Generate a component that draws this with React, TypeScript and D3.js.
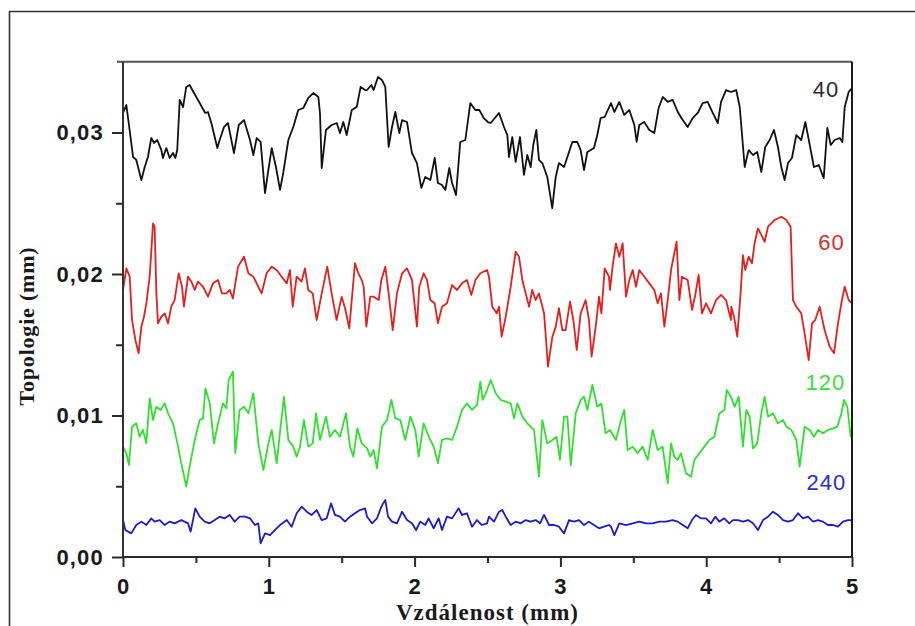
import { useEffect, useRef } from 'react';
import * as d3 from 'd3';

// distance (mm) / topology (mm) pairs
const series40: [number, number][] = [
  [0, 0.03138], [0.023, 0.03194], [0.041, 0.03053], [0.069, 0.02827], [0.091, 0.02806], [0.126, 0.02664],
  [0.149, 0.02756], [0.171, 0.02827], [0.194, 0.02961], [0.213, 0.02926], [0.235, 0.02947], [0.263, 0.02876],
  [0.274, 0.0282], [0.297, 0.0289], [0.32, 0.0282], [0.343, 0.02855], [0.359, 0.0282], [0.372, 0.02876],
  [0.389, 0.0323], [0.412, 0.0318], [0.434, 0.03322], [0.457, 0.03336], [0.487, 0.03279], [0.526, 0.03208],
  [0.564, 0.03138], [0.583, 0.03145], [0.606, 0.03067], [0.629, 0.02968], [0.647, 0.0289], [0.663, 0.02947],
  [0.693, 0.03039], [0.72, 0.03067], [0.761, 0.02855], [0.794, 0.03053], [0.83, 0.03088], [0.871, 0.02947],
  [0.894, 0.02841], [0.917, 0.02961], [0.944, 0.02933], [0.974, 0.02572], [0.997, 0.02735], [1.02, 0.0289],
  [1.049, 0.02756], [1.077, 0.02594], [1.099, 0.02714], [1.134, 0.02947], [1.168, 0.03039], [1.202, 0.03159],
  [1.237, 0.03173], [1.271, 0.03244], [1.305, 0.03279], [1.34, 0.03251], [1.351, 0.03138], [1.363, 0.02749],
  [1.392, 0.03018], [1.431, 0.03053], [1.466, 0.03067], [1.488, 0.02996], [1.511, 0.03074], [1.534, 0.02982],
  [1.569, 0.03159], [1.603, 0.0318], [1.63, 0.03322], [1.66, 0.033], [1.674, 0.033], [1.703, 0.03336],
  [1.719, 0.033], [1.749, 0.03392], [1.776, 0.03371], [1.799, 0.03322], [1.822, 0.02898], [1.845, 0.03039],
  [1.868, 0.03145], [1.895, 0.02996], [1.914, 0.03088], [1.948, 0.03074], [1.982, 0.02855], [2.016, 0.02784],
  [2.046, 0.02608], [2.073, 0.02686], [2.108, 0.02664], [2.138, 0.0282], [2.16, 0.02643], [2.188, 0.02629],
  [2.211, 0.02594], [2.238, 0.02749], [2.257, 0.02643], [2.284, 0.02558], [2.313, 0.02933], [2.348, 0.02947],
  [2.382, 0.03208], [2.416, 0.03159], [2.444, 0.03159], [2.474, 0.03102], [2.503, 0.03074], [2.522, 0.03067],
  [2.579, 0.03138], [2.613, 0.03039], [2.636, 0.02982], [2.647, 0.02827], [2.67, 0.02968], [2.693, 0.02792],
  [2.723, 0.02968], [2.75, 0.027], [2.773, 0.02841], [2.796, 0.02756], [2.814, 0.02912], [2.835, 0.03018],
  [2.853, 0.02806], [2.876, 0.02784], [2.91, 0.02686], [2.944, 0.02466], [2.968, 0.02686], [2.99, 0.02784],
  [3.025, 0.02756], [3.082, 0.02933], [3.116, 0.02933], [3.139, 0.02876], [3.162, 0.02735], [3.185, 0.02862],
  [3.23, 0.0289], [3.253, 0.02982], [3.276, 0.03102], [3.304, 0.0311], [3.347, 0.03208], [3.37, 0.03145],
  [3.404, 0.03216], [3.438, 0.03124], [3.473, 0.03159], [3.507, 0.03053], [3.523, 0.02933], [3.541, 0.03053],
  [3.575, 0.03074], [3.61, 0.03018], [3.644, 0.02996], [3.674, 0.03173], [3.702, 0.03251], [3.736, 0.03216],
  [3.77, 0.0323], [3.805, 0.03145], [3.839, 0.03088], [3.873, 0.03039], [3.907, 0.03102], [3.942, 0.03138],
  [3.976, 0.03208], [4.01, 0.03216], [4.045, 0.03138], [4.079, 0.03067], [4.102, 0.03216], [4.136, 0.033],
  [4.17, 0.03286], [4.206, 0.033], [4.23, 0.0318], [4.264, 0.02756], [4.291, 0.02876], [4.321, 0.02841],
  [4.35, 0.02862], [4.378, 0.02721], [4.405, 0.02898], [4.435, 0.02947], [4.465, 0.03018], [4.492, 0.02898],
  [4.515, 0.02756], [4.538, 0.02664], [4.561, 0.02784], [4.588, 0.0282], [4.618, 0.02982], [4.652, 0.02947],
  [4.68, 0.03074], [4.71, 0.02912], [4.739, 0.02756], [4.772, 0.0277], [4.806, 0.02678], [4.831, 0.03032],
  [4.854, 0.02912], [4.881, 0.02947], [4.916, 0.02961], [4.934, 0.02933], [4.95, 0.0318], [4.977, 0.03286],
  [5, 0.03314],
];

const series60: [number, number][] = [
  [0, 0.01887], [0.023, 0.0204], [0.046, 0.01981], [0.062, 0.01675], [0.085, 0.01534], [0.107, 0.0144],
  [0.126, 0.01628], [0.144, 0.01698], [0.16, 0.01793], [0.183, 0.01981], [0.206, 0.02358], [0.217, 0.02334],
  [0.229, 0.01863], [0.24, 0.01651], [0.263, 0.01698], [0.286, 0.01722], [0.309, 0.01651], [0.331, 0.01769],
  [0.354, 0.01816], [0.382, 0.02005], [0.405, 0.0191], [0.418, 0.01769], [0.446, 0.01981], [0.469, 0.01946],
  [0.492, 0.01887], [0.514, 0.01946], [0.549, 0.0191], [0.583, 0.0184], [0.617, 0.01934], [0.652, 0.01958],
  [0.679, 0.01863], [0.709, 0.01863], [0.732, 0.01887], [0.754, 0.01828], [0.789, 0.02052], [0.83, 0.02122],
  [0.86, 0.02005], [0.894, 0.01981], [0.928, 0.0191], [0.951, 0.01863], [0.985, 0.02005], [1.02, 0.02052],
  [1.054, 0.02028], [1.088, 0.01981], [1.123, 0.01934], [1.145, 0.02028], [1.164, 0.01769], [1.191, 0.01981],
  [1.225, 0.01946], [1.248, 0.0204], [1.271, 0.01887], [1.301, 0.01863], [1.328, 0.01675], [1.363, 0.01863],
  [1.401, 0.02052], [1.431, 0.01863], [1.465, 0.01675], [1.5, 0.0184], [1.523, 0.01758], [1.552, 0.01616],
  [1.591, 0.02076], [1.614, 0.02005], [1.637, 0.01958],
  [1.651, 0.0191], [1.669, 0.01628], [1.696, 0.0184], [1.719, 0.0184], [1.754, 0.01816], [1.772, 0.01958],
  [1.799, 0.02052], [1.822, 0.01863], [1.85, 0.01604], [1.879, 0.01863], [1.914, 0.02005], [1.948, 0.0204],
  [1.982, 0.01958], [2.016, 0.01628], [2.032, 0.0191], [2.062, 0.02005], [2.085, 0.01958], [2.108, 0.01816],
  [2.138, 0.01793], [2.16, 0.01651], [2.188, 0.01769], [2.222, 0.01793], [2.257, 0.01922], [2.291, 0.01887],
  [2.325, 0.01934], [2.359, 0.01958], [2.389, 0.01852], [2.417, 0.01958], [2.451, 0.02005], [2.497, 0.02028],
  [2.51, 0.01981], [2.533, 0.01769], [2.563, 0.01722], [2.579, 0.01769], [2.597, 0.01557], [2.625, 0.01698],
  [2.659, 0.0191], [2.693, 0.02158], [2.716, 0.02122], [2.739, 0.01958], [2.762, 0.01863], [2.785, 0.01769],
  [2.807, 0.01887], [2.83, 0.01816], [2.853, 0.01863], [2.888, 0.01722], [2.915, 0.01345], [2.945, 0.01557],
  [2.968, 0.01628], [2.99, 0.01758], [3.013, 0.01604], [3.036, 0.01604], [3.066, 0.01804], [3.089, 0.01675],
  [3.112, 0.01463], [3.139, 0.01722], [3.173, 0.01816], [3.196, 0.01675], [3.214, 0.01416], [3.242, 0.01628],
  [3.265, 0.0184], [3.281, 0.01722], [3.304, 0.0204], [3.333, 0.01981],
  [3.34, 0.01887], [3.358, 0.02052], [3.381, 0.02217], [3.404, 0.02122], [3.427, 0.02217], [3.45, 0.0184],
  [3.473, 0.01958], [3.496, 0.02028], [3.519, 0.0191], [3.541, 0.02028], [3.576, 0.01981], [3.61, 0.01934],
  [3.644, 0.01887], [3.667, 0.01793], [3.69, 0.01863], [3.713, 0.01628], [3.736, 0.01816], [3.759, 0.02028],
  [3.781, 0.02146], [3.797, 0.02228], [3.816, 0.01816], [3.834, 0.01981], [3.873, 0.01958], [3.903, 0.01746],
  [3.925, 0.01852], [3.948, 0.01993], [3.971, 0.01722], [3.999, 0.01793], [4.033, 0.01722], [4.067, 0.01816],
  [4.102, 0.01852], [4.136, 0.01816], [4.17, 0.01675],
  [4.172, 0.01769], [4.191, 0.01698], [4.213, 0.01557], [4.236, 0.01863], [4.252, 0.02134], [4.268, 0.02028],
  [4.291, 0.02122], [4.314, 0.02076], [4.332, 0.02217], [4.355, 0.02323], [4.378, 0.02276], [4.401, 0.02228],
  [4.424, 0.02334], [4.47, 0.02382], [4.515, 0.02405], [4.55, 0.02382], [4.579, 0.02334], [4.595, 0.01816],
  [4.618, 0.01769], [4.652, 0.01722], [4.675, 0.01581], [4.703, 0.01392], [4.726, 0.01651], [4.748, 0.01675],
  [4.778, 0.01769], [4.812, 0.01604], [4.847, 0.01486], [4.877, 0.0144], [4.904, 0.01651], [4.927, 0.01793],
  [4.95, 0.0191], [4.977, 0.01816], [5, 0.01793],
];

const series120: [number, number][] = [
  [0, 0.0078], [0.023, 0.00733], [0.041, 0.0065], [0.062, 0.00921], [0.091, 0.00945], [0.114, 0.0085],
  [0.137, 0.00898], [0.16, 0.00803], [0.183, 0.01121], [0.206, 0.00968], [0.229, 0.01062], [0.258, 0.01039],
  [0.286, 0.01086], [0.309, 0.01015], [0.343, 0.00945], [0.373, 0.00803], [0.4, 0.00662], [0.434, 0.00497],
  [0.457, 0.00638], [0.492, 0.00827], [0.526, 0.00968], [0.549, 0.0098], [0.565, 0.01192], [0.595, 0.01086],
  [0.624, 0.00803], [0.652, 0.00945], [0.686, 0.01086], [0.709, 0.01051], [0.725, 0.01251], [0.754, 0.0131],
  [0.77, 0.00733], [0.8, 0.01039], [0.83, 0.01062],
  [0.86, 0.01015], [0.894, 0.01157], [0.928, 0.00803], [0.963, 0.00615], [0.997, 0.00803], [1.02, 0.00898],
  [1.054, 0.00662], [1.081, 0.00921], [1.104, 0.01133], [1.134, 0.00827], [1.168, 0.0078], [1.191, 0.00709],
  [1.214, 0.0078], [1.241, 0.00968], [1.271, 0.0078], [1.301, 0.00803], [1.324, 0.01015], [1.351, 0.00827],
  [1.392, 0.00992], [1.419, 0.0085], [1.454, 0.00898], [1.488, 0.0085], [1.529, 0.01015], [1.557, 0.0078],
  [1.58, 0.00709], [1.607, 0.00909], [1.637, 0.00803], [1.66, 0.0078],
  [1.674, 0.00768], [1.696, 0.00709], [1.719, 0.00756], [1.742, 0.00627], [1.776, 0.00921], [1.811, 0.00968],
  [1.841, 0.0111], [1.868, 0.0098], [1.902, 0.00968], [1.936, 0.00827], [1.971, 0.00992], [2.005, 0.00898],
  [2.028, 0.00709], [2.062, 0.00945], [2.097, 0.0085], [2.131, 0.0078], [2.16, 0.00662], [2.188, 0.00827],
  [2.222, 0.00839], [2.257, 0.00827], [2.291, 0.00921], [2.325, 0.01039], [2.359, 0.01086], [2.394, 0.01039],
  [2.428, 0.01074], [2.451, 0.01239], [2.467, 0.0111], [2.497, 0.0118],
  [2.522, 0.01251], [2.556, 0.01157], [2.591, 0.0111], [2.625, 0.01098], [2.659, 0.01086], [2.682, 0.0098],
  [2.705, 0.01086], [2.739, 0.00992], [2.773, 0.00945], [2.819, 0.00898], [2.853, 0.00568], [2.876, 0.00968],
  [2.91, 0.00803], [2.945, 0.00827], [2.974, 0.0085], [2.997, 0.00686], [3.025, 0.00992], [3.048, 0.00992],
  [3.071, 0.0065], [3.105, 0.01015], [3.139, 0.0111], [3.162, 0.01133], [3.185, 0.01039], [3.219, 0.01216],
  [3.253, 0.01062], [3.281, 0.01086], [3.31, 0.00874], [3.34, 0.00898],
  [3.381, 0.00827], [3.416, 0.00968], [3.438, 0.01039], [3.461, 0.00756], [3.496, 0.0078], [3.53, 0.00733],
  [3.564, 0.0078], [3.599, 0.00686], [3.633, 0.00898], [3.667, 0.00756], [3.701, 0.0078], [3.736, 0.00521],
  [3.759, 0.00803], [3.781, 0.00709], [3.804, 0.00686], [3.827, 0.00733], [3.862, 0.00591], [3.896, 0.00568],
  [3.919, 0.00686], [3.953, 0.00733], [3.987, 0.0078], [4.022, 0.00827], [4.056, 0.0085], [4.09, 0.01015],
  [4.125, 0.01039], [4.141, 0.0118], [4.17, 0.01133],
  [4.195, 0.01062], [4.223, 0.01133], [4.252, 0.0078], [4.275, 0.01039], [4.298, 0.00992], [4.321, 0.00768],
  [4.35, 0.00803], [4.378, 0.01015], [4.401, 0.01133], [4.424, 0.00992], [4.458, 0.01015], [4.492, 0.00945],
  [4.527, 0.00968], [4.55, 0.00921], [4.584, 0.00898], [4.618, 0.00827], [4.641, 0.00638], [4.675, 0.00921],
  [4.71, 0.00898], [4.739, 0.0085], [4.767, 0.00898], [4.801, 0.00874], [4.835, 0.00898], [4.87, 0.00909],
  [4.899, 0.00921], [4.927, 0.01015], [4.945, 0.0111], [4.968, 0.01062], [4.991, 0.0085], [5, 0.00874],
];

const series240: [number, number][] = [
  [0, 0.00261], [0.016, 0.00191], [0.057, 0.00167], [0.091, 0.00226], [0.126, 0.0025], [0.16, 0.00226],
  [0.194, 0.00273], [0.217, 0.0025], [0.252, 0.00261], [0.286, 0.00226], [0.32, 0.0025], [0.354, 0.00238],
  [0.4, 0.00261], [0.446, 0.00238], [0.464, 0.00179], [0.496, 0.00344], [0.526, 0.00285], [0.56, 0.0025],
  [0.595, 0.00238], [0.629, 0.00261], [0.663, 0.00285], [0.697, 0.00273], [0.732, 0.00297], [0.766, 0.0025],
  [0.8, 0.00285],
  [0.837, 0.00285], [0.871, 0.00273], [0.905, 0.00226], [0.928, 0.00238], [0.944, 0.00097], [0.974, 0.00167],
  [1.008, 0.00155], [1.043, 0.00191], [1.077, 0.00226], [1.123, 0.00261], [1.157, 0.00214], [1.191, 0.00309],
  [1.226, 0.00356], [1.26, 0.0032], [1.294, 0.00297], [1.328, 0.00332], [1.363, 0.00261], [1.397, 0.00273],
  [1.427, 0.00379], [1.454, 0.00297], [1.488, 0.00285], [1.522, 0.0025], [1.557, 0.00285], [1.591, 0.00309],
  [1.625, 0.00332], [1.66, 0.00344],
  [1.674, 0.00285], [1.708, 0.00238], [1.742, 0.00273], [1.772, 0.00356], [1.799, 0.00403], [1.818, 0.00285],
  [1.845, 0.0025], [1.879, 0.00238], [1.914, 0.0032], [1.948, 0.00261], [1.982, 0.00238], [2.01, 0.00191],
  [2.039, 0.0025], [2.073, 0.00226], [2.096, 0.00273], [2.131, 0.00203], [2.165, 0.00273], [2.188, 0.00191],
  [2.222, 0.00285], [2.257, 0.00273], [2.302, 0.00344], [2.325, 0.00297], [2.359, 0.00309], [2.394, 0.00214],
  [2.428, 0.00261], [2.462, 0.00226], [2.497, 0.00238],
  [2.51, 0.00285], [2.545, 0.0025], [2.579, 0.0032], [2.601, 0.00332], [2.625, 0.00285], [2.659, 0.00226],
  [2.693, 0.0025], [2.728, 0.00238], [2.762, 0.00261], [2.796, 0.0025], [2.831, 0.00261], [2.86, 0.00238],
  [2.888, 0.00297], [2.922, 0.00226], [2.956, 0.00226], [2.99, 0.00214], [3.025, 0.00167], [3.059, 0.00261],
  [3.093, 0.0025], [3.128, 0.00261], [3.162, 0.00226], [3.196, 0.0025], [3.23, 0.00226], [3.265, 0.00203],
  [3.299, 0.00214], [3.333, 0.00226],
  [3.347, 0.00214], [3.37, 0.00155], [3.404, 0.00238], [3.45, 0.00226], [3.496, 0.00238], [3.541, 0.0025],
  [3.587, 0.00238], [3.633, 0.00238], [3.678, 0.0025], [3.724, 0.0025], [3.77, 0.00261], [3.805, 0.0025],
  [3.839, 0.00226], [3.873, 0.00203], [3.903, 0.00261], [3.93, 0.00297], [3.964, 0.00273], [3.999, 0.00273],
  [4.033, 0.00238], [4.062, 0.00285], [4.09, 0.0025], [4.124, 0.00273], [4.158, 0.00238],
  [4.184, 0.00261], [4.218, 0.00261], [4.252, 0.0025], [4.287, 0.00261], [4.321, 0.00238], [4.355, 0.00191],
  [4.39, 0.00261], [4.424, 0.00285], [4.458, 0.0032], [4.492, 0.00297], [4.527, 0.00261], [4.561, 0.0025],
  [4.595, 0.00261], [4.63, 0.00309], [4.664, 0.00273], [4.698, 0.00285], [4.733, 0.0025], [4.767, 0.00261],
  [4.801, 0.0025], [4.835, 0.00226], [4.87, 0.00226], [4.904, 0.00214], [4.938, 0.0025], [4.973, 0.00261],
  [5, 0.00261],
];

const seriesNames = ['40', '60', '120', '240'];
const xTicks = [0, 1, 2, 3, 4, 5];
const xMinorTicks = [0.5, 1.5, 2.5, 3.5, 4.5];
const yTicks = [0, 0.01, 0.02, 0.03];
const yMinorTicks = [0.005, 0.015, 0.025];

const W = 915;
const H = 626;
const left = 123;
const right = 852;
const bottom = 557;
const top = 61.75;

const commaFormat = d3.formatLocale({
  decimal: ',',
  thousands: '.',
  grouping: [3],
  currency: ['', ''],
}).format('.2f');

export default function App() {
  const axesRef = useRef<SVGGElement>(null);

  const x = d3.scaleLinear().domain([0, 5]).range([left, right]);
  const y = d3.scaleLinear().domain([0, 0.035]).range([bottom, top]);

  const line = d3.line<[number, number]>()
    .x(d => x(d[0]))
    .y(d => y(d[1]));

  const series = [
    { name: seriesNames[0], data: series40, stroke: '#111111', labelColor: '#2b2b2b', at: [4.913, 0.03253] },
    { name: seriesNames[1], data: series60, stroke: '#e3201e', labelColor: '#d8302c', at: [4.95, 0.0217] },
    { name: seriesNames[2], data: series120, stroke: '#2fe02f', labelColor: '#3ddc3d', at: [4.954, 0.0118] },
    { name: seriesNames[3], data: series240, stroke: '#1c1cc4', labelColor: '#2d2dc8', at: [4.961, 0.00473] },
  ];

  useEffect(() => {
    const g = d3.select(axesRef.current);
    g.selectAll('*').remove();

    // x axis, major + minor ticks
    const xMajor = g.append('g')
      .attr('transform', `translate(0, ${bottom})`)
      .call(d3.axisBottom(x).tickValues(xTicks).tickSize(10).tickPadding(11).tickFormat(d3.format('d')));
    g.append('g')
      .attr('transform', `translate(0, ${bottom})`)
      .call(d3.axisBottom(x).tickValues(xMinorTicks).tickSize(6).tickFormat(() => ''));

    // y axis
    const yMajor = g.append('g')
      .attr('transform', `translate(${left}, 0)`)
      .call(d3.axisLeft(y).tickValues(yTicks).tickSize(11).tickPadding(8).tickFormat(d => commaFormat(d as number)));
    g.append('g')
      .attr('transform', `translate(${left}, 0)`)
      .call(d3.axisLeft(y).tickValues(yMinorTicks).tickSize(7).tickFormat(() => ''));

    g.selectAll('.domain').remove();
    g.selectAll('.tick line').attr('stroke', '#2a2a2a').attr('stroke-width', 2);

    xMajor.selectAll('text')
      .attr('font-family', '"Liberation Sans", Arial, sans-serif')
      .attr('font-size', 22)
      .attr('font-weight', 'bold')
      .attr('letter-spacing', 1)
      .attr('fill', '#1a1a1a');
    yMajor.selectAll('text')
      .attr('font-family', '"Liberation Sans", Arial, sans-serif')
      .attr('font-size', 22)
      .attr('font-weight', 'bold')
      .attr('letter-spacing', 1.2)
      .attr('fill', '#1a1a1a');
  }, [x, y]);

  return (
    <svg
      width={W}
      height={H}
      style={{ position: 'absolute', left: 0, top: 0, background: '#fff' }}
    >
      {/* outer figure frame */}
      <path d={`M9.5,${H} V11.5 H${W}`} fill="none" stroke="#333" strokeWidth={1.6} />

      <g className="lines">
        {series.map(s => (
          <path
            key={s.name}
            d={line(s.data) ?? ''}
            fill="none"
            stroke={s.stroke}
            strokeWidth={1.8}
            strokeLinejoin="round"
          />
        ))}
      </g>

      {/* plot frame */}
      <line x1={117} x2={right} y1={top} y2={top} stroke="#555" strokeWidth={2} />
      <line x1={right} x2={right} y1={top} y2={bottom} stroke="#1a1a1a" strokeWidth={2} />
      <line x1={left} x2={left} y1={top} y2={bottom} stroke="#333" strokeWidth={2} />
      <line x1={left} x2={right} y1={bottom} y2={bottom} stroke="#2a2a2a" strokeWidth={2} />

      <g ref={axesRef} />

      {series.map(s => (
        <text
          key={`label-${s.name}`}
          x={x(s.at[0])}
          y={y(s.at[1])}
          textAnchor="end"
          fontFamily='"Liberation Sans", Arial, sans-serif'
          fontSize={22}
          letterSpacing={1}
          fill={s.labelColor}
        >
          {s.name}
        </text>
      ))}

      <text
        x={(left + right) / 2}
        y={620}
        textAnchor="middle"
        fontFamily='"Liberation Serif", "Times New Roman", serif'
        fontWeight="bold"
        fontSize={23}
        letterSpacing={1}
        fill="#1a1a1a"
      >
        Vzdálenost (mm)
      </text>
      <text
        transform={`translate(34, 326) rotate(-90)`}
        textAnchor="middle"
        fontFamily='"Liberation Serif", "Times New Roman", serif'
        fontWeight="bold"
        fontSize={22}
        letterSpacing={0.8}
        fill="#1a1a1a"
      >
        Topologie (mm)
      </text>
    </svg>
  );
}
